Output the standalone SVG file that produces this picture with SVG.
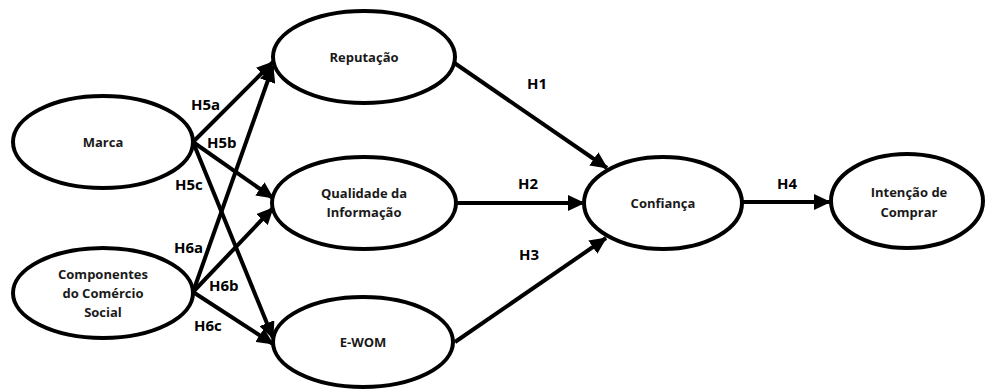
<svg xmlns="http://www.w3.org/2000/svg" width="985" height="389" viewBox="0 0 985 389">
<style>
.node ellipse{fill:#fff;stroke:#000;stroke-width:4}
.node text{font-family:"Open Sans","Liberation Sans",sans-serif;font-weight:bold;font-size:13px;fill:#1a1a1a;text-anchor:middle}
.conn line{stroke:#000;stroke-width:4}
.lbl{font-family:"Open Sans","Liberation Sans",sans-serif;font-weight:bold;font-size:15px;fill:#000}
</style>
<defs>
<marker id="ah" markerUnits="userSpaceOnUse" markerWidth="18" markerHeight="16" refX="16" refY="8" orient="auto">
<path d="M0,0 L17,8 L0,16 Z" fill="#000"/>
</marker>
</defs>
<g id="connectors" class="conn">
<line x1="193" y1="142" x2="273" y2="62" marker-end="url(#ah)"/>
<line x1="193" y1="142" x2="273" y2="198" marker-end="url(#ah)"/>
<line x1="193" y1="142" x2="273" y2="338" marker-end="url(#ah)"/>
<line x1="193" y1="292" x2="273" y2="66" marker-end="url(#ah)"/>
<line x1="193" y1="292" x2="273" y2="208" marker-end="url(#ah)"/>
<line x1="193" y1="292" x2="273" y2="344" marker-end="url(#ah)"/>
<line x1="453" y1="62" x2="607" y2="168" marker-end="url(#ah)"/>
<line x1="457" y1="203" x2="584" y2="203" marker-end="url(#ah)"/>
<line x1="455" y1="342" x2="606" y2="238" marker-end="url(#ah)"/>
<line x1="742" y1="202" x2="830" y2="202" marker-end="url(#ah)"/>
</g>
<g id="labels">
<text class="lbl" x="191" y="110">H5a</text>
<text class="lbl" x="207" y="148">H5b</text>
<text class="lbl" x="175" y="190">H5c</text>
<text class="lbl" x="174" y="253">H6a</text>
<text class="lbl" x="209" y="291">H6b</text>
<text class="lbl" x="194" y="331">H6c</text>
<text class="lbl" x="527" y="89">H1</text>
<text class="lbl" x="518" y="189">H2</text>
<text class="lbl" x="519" y="260">H3</text>
<text class="lbl" x="777" y="189">H4</text>
</g>
<g id="marca" class="node"><ellipse cx="103" cy="142" rx="90" ry="46"/><text x="103" y="147">Marca</text></g>
<g id="componentes" class="node"><ellipse cx="103" cy="293" rx="90" ry="45"/><text x="103" y="279">Componentes</text><text x="103" y="298">do Comércio</text><text x="103" y="317">Social</text></g>
<g id="reputacao" class="node"><ellipse cx="364" cy="57" rx="91" ry="46"/><text x="364" y="62">Reputação</text></g>
<g id="qualidade" class="node"><ellipse cx="364" cy="203" rx="92" ry="46"/><text x="364" y="198">Qualidade da</text><text x="364" y="217">Informação</text></g>
<g id="ewom" class="node"><ellipse cx="363" cy="342" rx="90" ry="45"/><text x="363" y="347">E-WOM</text></g>
<g id="confianca" class="node"><ellipse cx="663" cy="203" rx="79" ry="46"/><text x="663" y="208">Confiança</text></g>
<g id="intencao" class="node"><ellipse cx="907" cy="201" rx="76" ry="47"/><text x="909" y="197">Intenção de</text><text x="909" y="217">Comprar</text></g>
</svg>
